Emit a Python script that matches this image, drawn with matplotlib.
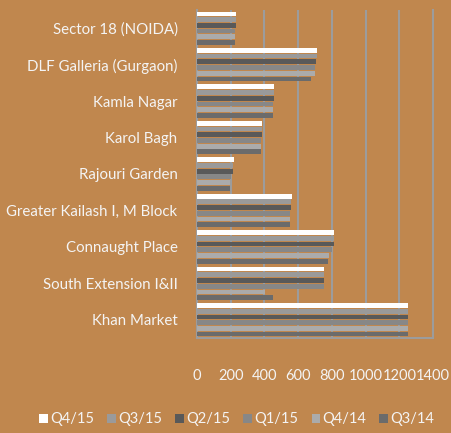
import numpy as np
import matplotlib.pyplot as plt

plt.rcParams["font.family"] = ["Lato", "DejaVu Sans"]

# categories, top to bottom
places = ["Sector 18 (NOIDA)", "DLF Galleria (Gurgaon)", "Kamla Nagar", "Karol Bagh",
          "Rajouri Garden", "Greater Kailash I, M Block", "Connaught Place",
          "South Extension I&II", "Khan Market"]

quarters = ["Q4/15", "Q3/15", "Q2/15", "Q1/15", "Q4/14", "Q3/14"]

q4_15 = [233, 712, 459, 384, 218, 561, 810, 755, 1249]
q3_15 = [232, 710, 459, 383, 213, 557, 810, 755, 1249]
q2_15 = [232, 708, 459, 383, 213, 557, 810, 755, 1249]
q1_15 = [227, 700, 453, 378, 202, 552, 802, 751, 1249]
q4_14 = [226, 701, 453, 378, 196, 552, 786, 403, 1249]
q3_14 = [228, 676, 453, 378, 196, 552, 776, 451, 1249]

series = [q4_15, q3_15, q2_15, q1_15, q4_14, q3_14]
colors = ["#FFFFFF", "#9A9A9A", "#595959", "#878787", "#ABABAB", "#6B6B6B"]

bg = "#C0874E"
txt = "#F4F4F4"

fig = plt.figure(figsize=(4.51, 4.33), dpi=100, facecolor=bg)
ax = fig.add_axes([197 / 451, 1 - 338 / 433, (433 - 197) / 451, (338 - 10) / 433])
ax.set_facecolor(bg)

n = len(places)
y = np.arange(n)
step = 0.157
h = 0.13
for i, (vals, c) in enumerate(zip(series, colors)):
    off = (i - 2.5) * step
    ax.barh(y + off, vals, height=h, color=c, label=quarters[i], zorder=3)

ax.set_ylim(n - 0.5, -0.5)
ax.set_xlim(0, 1400)
ax.set_xticks(range(0, 1401, 200))
ax.set_yticks(y)
ax.set_yticklabels(places, color=txt, fontsize=10.8)
ax.tick_params(axis="y", length=0, pad=14)
ax.tick_params(axis="x", length=0, pad=22, colors=txt, labelsize=10.5)

ax.grid(axis="x", color="#9C9C9C", linewidth=1.5, zorder=1)
ax.spines["top"].set_visible(False)
for s in ["left", "bottom", "right"]:
    ax.spines[s].set_color("#9C9C9C")
    ax.spines[s].set_linewidth(1.5)

fig.legend(loc="lower center", bbox_to_anchor=(0.525, -0.015), ncol=6, frameon=False,
           fontsize=10.5, labelcolor=txt, handlelength=0.6, handleheight=0.6,
           handletextpad=0.15, columnspacing=0.9)

fig.savefig("out.png", dpi=100, facecolor=bg)
